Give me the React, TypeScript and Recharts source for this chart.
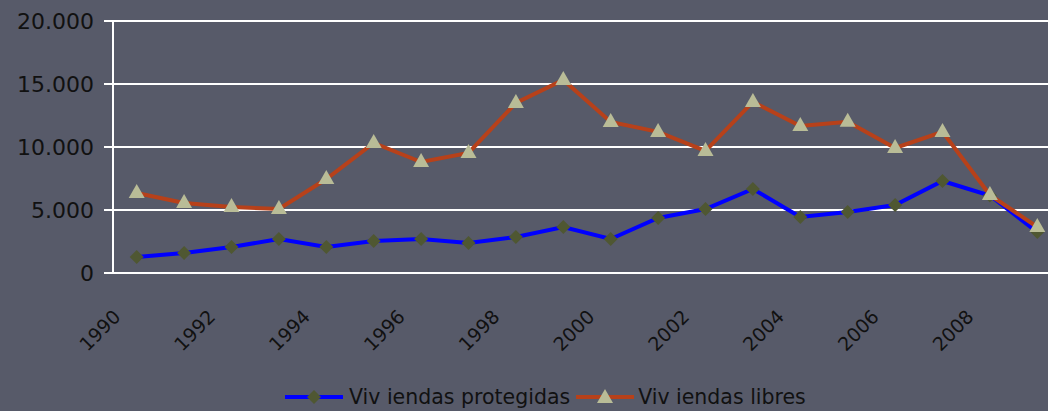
import { LineChart, Line, XAxis, YAxis, CartesianGrid, Legend } from 'recharts';

const FONT = '"DejaVu Sans", sans-serif';
const TEXT = '#111111';
const BLUE = '#0000ff';
const ORANGE = '#b7411a';
const DIAMOND = '#4f5732';
const TRIANGLE = '#b9bc97';

const years = [
  '1990', '1991', '1992', '1993', '1994', '1995', '1996', '1997', '1998', '1999',
  '2000', '2001', '2002', '2003', '2004', '2005', '2006', '2007', '2008', '2009',
];
const protegidas = [
  1270, 1590, 2060, 2700, 2060, 2540, 2700, 2380, 2860, 3650,
  2700, 4370, 5080, 6670, 4450, 4840, 5400, 7300, 6150, 3250,
];
const libres = [
  6350, 5560, 5240, 5080, 7460, 10320, 8810, 9530, 13500, 15320,
  11990, 11200, 9690, 13580, 11670, 12000, 9920, 11200, 6190, 3650,
];
const yTicks = [0, 5000, 10000, 15000, 20000];
const seriesNames = ['Viv iendas protegidas', 'Viv iendas libres'];

const data = years.map((y, i) => ({ year: y, protegidas: protegidas[i], libres: libres[i] }));

const fmt = (v: number) => (v === 0 ? '0' : v.toLocaleString('de-DE'));

const Diamond = (props: any) => {
  const { cx, cy } = props;
  if (cx == null || cy == null) return null;
  const r = 7;
  return <polygon points={`${cx},${cy - r} ${cx + r},${cy} ${cx},${cy + r} ${cx - r},${cy}`} fill={DIAMOND} />;
};

const Triangle = (props: any) => {
  const { cx, cy } = props;
  if (cx == null || cy == null) return null;
  return <polygon points={`${cx},${cy - 9} ${cx + 8},${cy + 5} ${cx - 8},${cy + 5}`} fill={TRIANGLE} />;
};

const XTick = (props: any) => {
  const { x, y, payload } = props;
  return (
    <text
      transform={`translate(${x - 15},${y + 37}) rotate(-45)`}
      textAnchor="end"
      fontSize={19}
      fontFamily={FONT}
      fill={TEXT}
    >
      {payload.value}
    </text>
  );
};

const LegendContent = () => (
  <div style={{ display: 'flex', alignItems: 'center', height: 28, fontFamily: FONT, fontSize: 20.5, color: TEXT }}>
    <svg width={58} height={18}>
      <line x1={0} y1={9} x2={58} y2={9} stroke={BLUE} strokeWidth={4} />
      <Diamond cx={29} cy={9} />
    </svg>
    <span style={{ marginLeft: 6, marginRight: 6 }}>{seriesNames[0]}</span>
    <svg width={58} height={18}>
      <line x1={0} y1={9} x2={58} y2={9} stroke={ORANGE} strokeWidth={4} />
      <Triangle cx={29} cy={10} />
    </svg>
    <span style={{ marginLeft: 4 }}>{seriesNames[1]}</span>
  </div>
);

export default function App() {
  return (
    <div
      style={{
        position: 'absolute',
        left: 0,
        top: 0,
        width: 1048,
        height: 411,
        overflow: 'hidden',
        background: '#575a69',
      }}
    >
      <LineChart width={1062} height={411} data={data} margin={{ top: 21, right: 1, left: 0, bottom: 0 }}>
        <CartesianGrid vertical={false} stroke="#ffffff" strokeWidth={2} />
        <XAxis
          dataKey="year"
          interval={1}
          padding={{ left: 23.7, right: 23.7 }}
          axisLine={{ stroke: '#ffffff', strokeWidth: 2 }}
          tickLine={false}
          tick={<XTick />}
          height={110}
        />
        <YAxis
          width={113}
          domain={[0, 20000]}
          ticks={yTicks}
          tickFormatter={fmt}
          axisLine={{ stroke: '#ffffff', strokeWidth: 2 }}
          tickLine={{ stroke: '#ffffff', strokeWidth: 2 }}
          tickSize={9}
          tickMargin={10}
          tick={{ fontSize: 22, fontFamily: FONT, fill: TEXT }}
        />
        <Legend content={<LegendContent />} verticalAlign="bottom" wrapperStyle={{ left: 285, width: 600 }} />
        <Line
          dataKey="protegidas"
          name={seriesNames[0]}
          stroke={BLUE}
          strokeWidth={4}
          dot={<Diamond />}
          activeDot={false}
          isAnimationActive={false}
        />
        <Line
          dataKey="libres"
          name={seriesNames[1]}
          stroke={ORANGE}
          strokeWidth={4}
          dot={<Triangle />}
          activeDot={false}
          isAnimationActive={false}
        />
      </LineChart>
    </div>
  );
}
